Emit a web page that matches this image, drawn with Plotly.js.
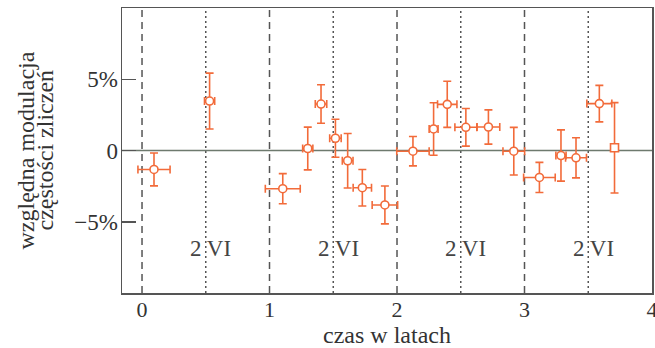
<!DOCTYPE html>
<html>
<head>
<meta charset="utf-8">
<script src="https://cdn.plot.ly/plotly-3.0.1.min.js"></script>
<style>html,body{margin:0;padding:0;background:#fff;}#chart{width:655px;height:348px;}</style>
</head>
<body>
<div id="chart"></div>
<script>
// Data
var timeYears = [0.094, 0.53, 1.104, 1.30, 1.404, 1.517, 1.613, 1.728, 1.905, 2.125, 2.287, 2.394, 2.54, 2.717, 2.916, 3.117, 3.286, 3.404, 3.587];
var modulation = [-1.33, 3.47, -2.68, 0.14, 3.26, 0.86, -0.72, -2.61, -3.82, -0.05, 1.51, 3.24, 1.63, 1.65, -0.05, -1.89, -0.35, -0.51, 3.29];
var modErr = [1.15, 1.96, 1.06, 1.5, 1.35, 1.33, 1.91, 1.28, 1.33, 1.03, 1.84, 1.62, 1.32, 1.2, 1.67, 1.06, 1.8, 1.41, 1.28];
var timeErr = [0.126, 0.04, 0.137, 0.04, 0.045, 0.045, 0.042, 0.072, 0.1, 0.127, 0.035, 0.076, 0.086, 0.089, 0.085, 0.124, 0.04, 0.082, 0.098];
var lastTime = [3.706];
var lastMod = [0.19];
var lastErr = [3.17];

var yearLines = [0, 1, 2, 3];
var juneLines = [0.5, 1.5, 2.5, 3.5];
var juneLabel = "2 VI";
var yTickVals = [-5, 0, 5];
var yTickText = ["\u22125%", "0", "5%"];
var xTickVals = [0, 1, 2, 3, 4];
var yTitleLines = ["względna modulacja", "częstości zliczeń"];
var xTitle = "czas w latach";

var orange = "#f26b3a";
var fontFam = "Liberation Serif, serif";
var txt = "#333";

var shapes = [];
yearLines.forEach(function (v) {
  shapes.push({type: "line", xref: "x", yref: "paper", x0: v, x1: v, y0: 0, y1: 1,
    line: {color: "#555", width: 1.5, dash: "7px,5px"}, layer: "below"});
});
juneLines.forEach(function (v) {
  shapes.push({type: "line", xref: "x", yref: "paper", x0: v, x1: v, y0: 0, y1: 1,
    line: {color: "#555", width: 1.5, dash: "2px,3px"}, layer: "below"});
});
shapes.push({type: "line", xref: "paper", yref: "y", x0: 0, x1: 1, y0: 0, y1: 0,
  line: {color: "#6e7a6e", width: 1.5}, layer: "below"});

var annotations = juneLines.map(function (v) {
  return {x: v, y: -6.85, xref: "x", yref: "y", text: juneLabel, showarrow: false,
    xshift: 5, font: {family: fontFam, size: 23, color: "#444"}};
});
var yTitleShift = [-97, -78];
yTitleLines.forEach(function (t, i) {
  annotations.push({x: 0, y: 0.5, xref: "paper", yref: "paper", text: t, showarrow: false,
    textangle: -90, xanchor: "center", yanchor: "middle", xshift: yTitleShift[i],
    font: {family: fontFam, size: 24, color: txt}});
});

var traces = [
  {x: timeYears, y: modulation, type: "scatter", mode: "markers",
    marker: {symbol: "circle", size: 8, color: "#fff", line: {color: orange, width: 1.6}},
    error_y: {type: "data", array: modErr, visible: true, color: orange, thickness: 1.6, width: 4},
    error_x: {type: "data", array: timeErr, visible: true, color: orange, thickness: 1.6, width: 4}},
  {x: lastTime, y: lastMod, type: "scatter", mode: "markers",
    marker: {symbol: "square", size: 8, color: "#fff", line: {color: orange, width: 1.6}},
    error_y: {type: "data", array: lastErr, visible: true, color: orange, thickness: 1.6, width: 4}}
];

var layout = {
  width: 655, height: 348,
  margin: {l: 122, r: 3, t: 8, b: 55},
  paper_bgcolor: "#fff", plot_bgcolor: "#fff",
  showlegend: false,
  font: {family: fontFam, size: 23, color: txt},
  xaxis: {range: [-0.157, 4], tickvals: xTickVals, ticks: "", showgrid: false, zeroline: false,
    showline: true, mirror: true, linecolor: "#555", linewidth: 1.5, ticklabeloverflow: "allow",
    ticklabelstandoff: -4,
    tickfont: {family: fontFam, size: 22, color: txt},
    title: {text: xTitle, font: {family: fontFam, size: 24, color: txt}, standoff: 10}},
  yaxis: {range: [-10, 10], tickvals: yTickVals, ticktext: yTickText, ticks: "inside", ticklen: 14,
    tickcolor: "#555", tickwidth: 1.5, showgrid: false, zeroline: false,
    showline: true, mirror: true, linecolor: "#555", linewidth: 1.5, ticklabelstandoff: -2,
    tickfont: {family: fontFam, size: 23, color: txt}},
  shapes: shapes,
  annotations: annotations
};

Plotly.newPlot("chart", traces, layout, {staticPlot: true, displayModeBar: false});
</script>
</body>
</html>
